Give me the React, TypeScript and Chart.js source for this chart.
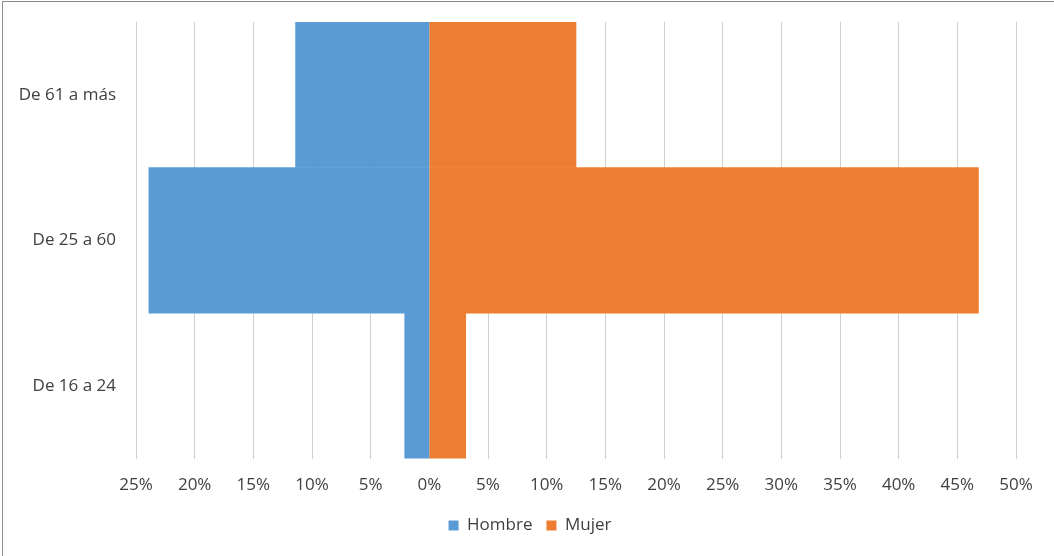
import React, { useEffect, useRef } from "react";
import { Chart, registerables } from "chart.js";

Chart.register(...registerables);

const categories = ["De 61 a más", "De 25 a 60", "De 16 a 24"];
const hombre = [11.4, 23.9, 2.1];
const mujer = [12.5, 46.8, 3.1];
const xTicks = [-25, -20, -15, -10, -5, 0, 5, 10, 15, 20, 25, 30, 35, 40, 45, 50];

const legendShift = {
  id: "legendShift",
  afterLayout(chart: any) {
    const lg = chart.legend;
    if (!lg) return;
    lg.left += 22;
    lg.right += 22;
    lg.top -= 8;
    lg.bottom -= 8;
  },
};

export default function App() {
  const ref = useRef<HTMLCanvasElement | null>(null);

  useEffect(() => {
    document.body.style.margin = "0";
    const font = { family: "'Open Sans', 'Liberation Sans', sans-serif", size: 17 };
    const chart = new Chart(ref.current as HTMLCanvasElement, {
      type: "bar",
      data: {
        labels: categories,
        datasets: [
          {
            label: "Hombre",
            data: hombre.map((v) => -v),
            backgroundColor: "#5B9BD5",
            borderWidth: 0,
            barPercentage: 1,
            categoryPercentage: 1,
          },
          {
            label: "Mujer",
            data: mujer,
            backgroundColor: "#ED7D31",
            borderWidth: 0,
            barPercentage: 1,
            categoryPercentage: 1,
          },
        ],
      },
      plugins: [legendShift],
      options: {
        indexAxis: "y",
        animation: false,
        responsive: false,
        maintainAspectRatio: false,
        layout: { padding: { top: 22, right: 38, left: 0, bottom: 4 } },
        scales: {
          x: {
            stacked: true,
            min: -25,
            max: 50,
            afterBuildTicks: (scale: any) => {
              scale.ticks = xTicks.map((v) => ({ value: v }));
            },
            grid: { color: "#d0d0d0", drawTicks: false, lineWidth: 1 },
            border: { display: false },
            ticks: {
              color: "#404040",
              font,
              padding: 16,
              maxRotation: 0,
              autoSkip: false,
              callback: (v: any) => Math.abs(Number(v)) + "%",
            },
          },
          y: {
            stacked: true,
            grid: { display: false, drawTicks: false },
            border: { display: false },
            ticks: { color: "#404040", font, padding: 20 },
            afterFit: (scale: any) => {
              scale.width = 136;
              scale.paddingTop = 0;
              scale.paddingBottom = 0;
            },
          },
        },
        plugins: {
          legend: {
            position: "bottom",
            labels: {
              color: "#404040",
              font,
              boxWidth: 10,
              boxHeight: 10,
              padding: 14,
            },
          },
          tooltip: { enabled: false },
        },
      },
    });
    return () => chart.destroy();
  }, []);

  return (
    <div style={{ position: "absolute", left: 0, top: 0, width: 1054, height: 556, background: "#fff" }}>
      <canvas ref={ref} width={1054} height={556} style={{ display: "block" }} />
      <div
        style={{
          position: "absolute",
          left: 2,
          top: 1,
          width: 1052,
          height: 555,
          borderTop: "1px solid #8c8c8c",
          borderLeft: "1px solid #8c8c8c",
          pointerEvents: "none",
        }}
      />
    </div>
  );
}
